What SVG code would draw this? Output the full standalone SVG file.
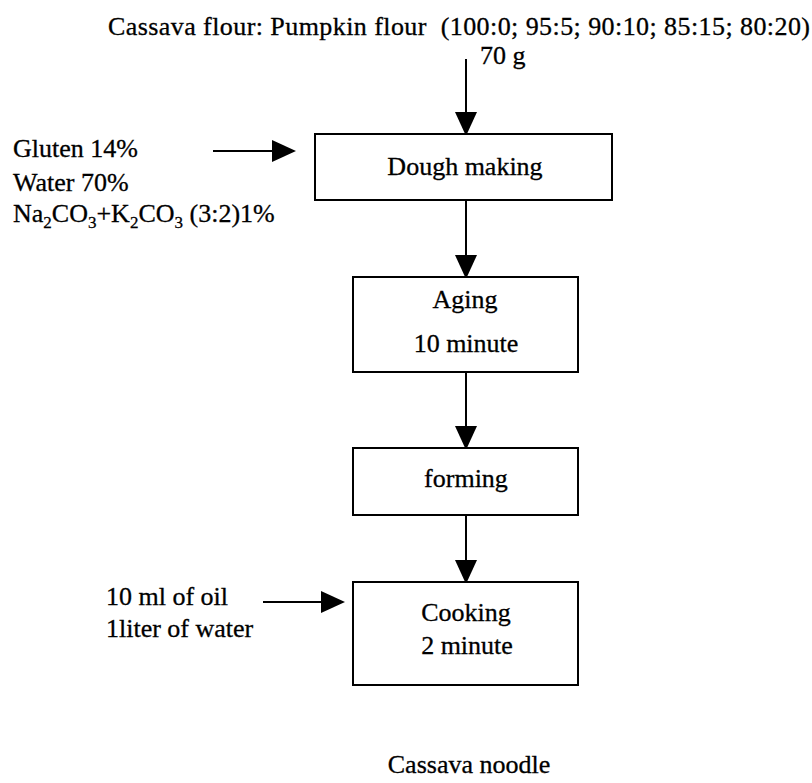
<svg xmlns="http://www.w3.org/2000/svg" width="812" height="783" viewBox="0 0 812 783">
<style>
text{font-family:"Liberation Serif","Times New Roman",serif;font-size:26px;fill:#000;stroke:#000;stroke-width:0.3}
.c{text-anchor:middle}
.box{fill:#fff;stroke:#000;stroke-width:2}
.ln{stroke:#000;stroke-width:2;fill:none;marker-end:url(#ah)}
.sub{font-size:17px}
</style>
<defs>
<marker id="ah" viewBox="0 0 24 22" refX="22" refY="11" markerWidth="24" markerHeight="22" markerUnits="userSpaceOnUse" orient="auto">
<path d="M0,0 L24,11 L0,22 z" fill="#000"/>
</marker>
</defs>
<rect width="812" height="783" fill="#fff"/>
<g id="inputs">
<text x="108" y="35" textLength="702" lengthAdjust="spacing">Cassava flour: Pumpkin flour &#160;(100:0; 95:5; 90:10; 85:15; 80:20)</text>
<text x="480" y="64">70 g</text>
<text x="13" y="157">Gluten 14%</text>
<text x="13" y="191">Water 70%</text>
<text x="13" y="222">Na<tspan class="sub" dy="6">2</tspan><tspan dy="-6">CO</tspan><tspan class="sub" dy="6">3</tspan><tspan dy="-6">+K</tspan><tspan class="sub" dy="6">2</tspan><tspan dy="-6">CO</tspan><tspan class="sub" dy="6">3</tspan><tspan dy="-6"> (3:2)1%</tspan></text>
<text x="106" y="605">10 ml of oil</text>
<text x="106" y="637">1liter of water</text>
</g>
<g id="connectors">
<line class="ln" x1="466" y1="59" x2="466" y2="134"/>
<line class="ln" x1="213" y1="151" x2="294" y2="151"/>
<line class="ln" x1="466" y1="200" x2="466" y2="277"/>
<line class="ln" x1="466" y1="372" x2="466" y2="448"/>
<line class="ln" x1="466" y1="515" x2="466" y2="582"/>
<line class="ln" x1="263" y1="602" x2="343" y2="602"/>
</g>
<g id="dough">
<rect class="box" x="315" y="134" width="297" height="66"/>
<text class="c" x="465" y="175">Dough making</text>
</g>
<g id="aging">
<rect class="box" x="353" y="277" width="225" height="95"/>
<text class="c" x="465" y="308">Aging</text>
<text class="c" x="466" y="352">10 minute</text>
</g>
<g id="forming">
<rect class="box" x="353" y="448" width="225" height="67"/>
<text class="c" x="466" y="487">forming</text>
</g>
<g id="cooking">
<rect class="box" x="353" y="582" width="225" height="103"/>
<text class="c" x="466" y="621">Cooking</text>
<text class="c" x="467" y="654">2 minute</text>
</g>
<g id="output">
<text class="c" x="469" y="773">Cassava noodle</text>
</g>
</svg>
